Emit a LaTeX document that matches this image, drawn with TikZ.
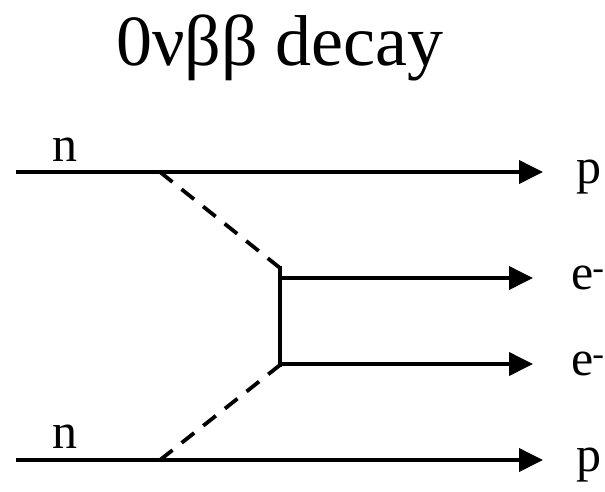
\documentclass[tikz,border=0pt]{standalone}
\usepackage{fontspec}
\setmainfont{Liberation Serif}
\usetikzlibrary{arrows.meta}
\begin{document}
\begin{tikzpicture}[x=1pt,y=-1pt,
  fermion/.style={line width=3.8pt,-{Triangle[length=24pt,width=23pt]}},
  plainline/.style={line width=3.8pt},
  boson/.style={line width=3.8pt,dash pattern=on 16pt off 11.6pt},
  lbl/.style={font=\fontsize{50}{50}\selectfont,inner sep=0pt,anchor=base west}]
\useasboundingbox (0,0) rectangle (605,491);
\node[font=\fontsize{72}{72}\selectfont,inner sep=0pt,anchor=base] (title) at (280,65) {0νββ decay};
% vertices
\coordinate (inA) at (16,172);
\coordinate (vA) at (160,172);
\coordinate (outA) at (543,172);
\coordinate (inB) at (16,460);
\coordinate (vB) at (160,460);
\coordinate (outB) at (543,460);
\coordinate (wA) at (280,268);
\coordinate (wB) at (280,365);
\coordinate (eA) at (280,278);
\coordinate (eB) at (280,364);
\coordinate (eAout) at (533,278);
\coordinate (eBout) at (533,364);
% lines
\draw[fermion] (inA) -- (outA);
\draw[fermion] (inB) -- (outB);
\draw[boson] (vA) -- (wA);
\draw[boson] (vB) -- (wB);
\draw[plainline,line cap=rect] (wA) -- (wB);
\draw[fermion] (eA) -- (eAout);
\draw[fermion] (eB) -- (eBout);
% labels
\node[lbl] (nA) at (52,161) {n};
\node[lbl] (nB) at (52,448) {n};
\node[lbl] (pA) at (576,183) {p};
\node[lbl] (pB) at (576,471) {p};
\node[lbl] (elA) at (571,289) {e\kern-1pt\textsuperscript{-}};
\node[lbl] (elB) at (571,375) {e\kern-1pt\textsuperscript{-}};
\end{tikzpicture}
\end{document}
